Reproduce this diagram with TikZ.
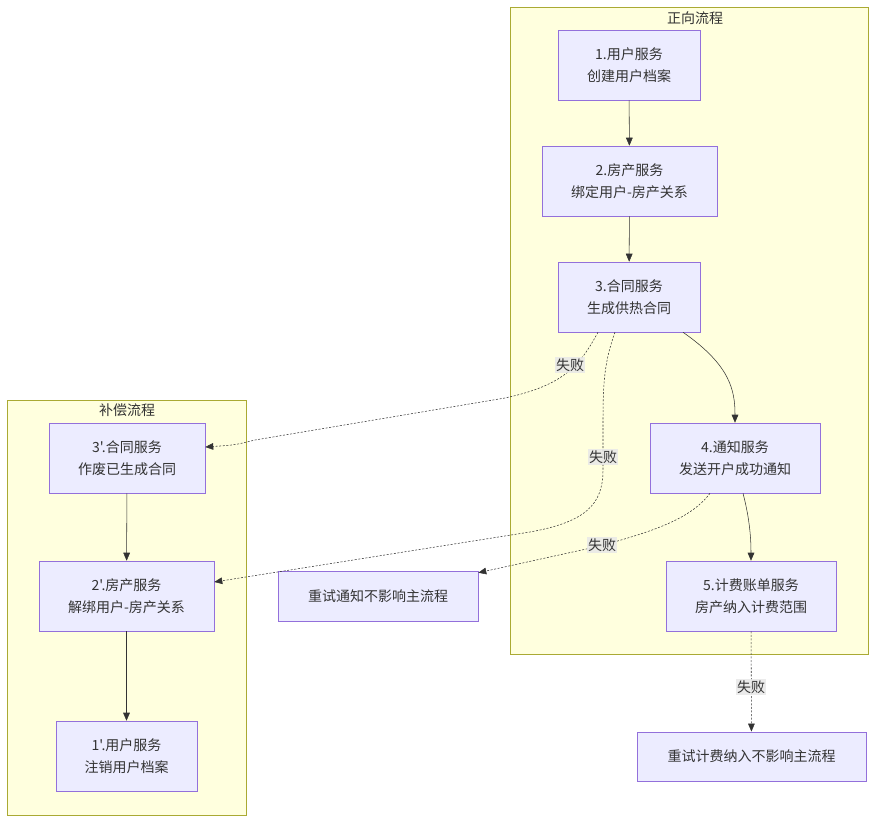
\documentclass[tikz,border=0pt]{standalone}
\usepackage{fontspec}
\usepackage{xcolor}
\usepackage{tikz}
\usetikzlibrary{positioning,calc,arrows.meta}
\newfontfamily\cjk{Noto Sans CJK SC}
\definecolor{boxfill}{HTML}{ECECFF}
\definecolor{boxline}{HTML}{9370DB}
\definecolor{grpfill}{HTML}{FFFFDE}
\definecolor{grpline}{HTML}{AAAA33}
\definecolor{ink}{HTML}{333333}
\definecolor{lblfill}{HTML}{E8E8E8}

\begin{document}
\begin{tikzpicture}[x=0.75pt,y=-0.75pt,
    txt/.style={font=\cjk\fontsize{10.5}{16.5}\selectfont, text=ink},
    svc/.style={txt, draw=boxline, fill=boxfill, align=center, inner sep=0pt, minimum height=52.5pt},
    grp/.style={draw=grpline, fill=grpfill},
    flow/.style={draw=ink, -{Triangle[length=6pt,width=5pt]}},
    fail/.style={flow, dash pattern=on 1.5pt off 1.2pt},
    lbl/.style={txt, fill=lblfill, fill opacity=0.85, text opacity=1, inner sep=1pt}]
    \useasboundingbox (0,0) rectangle (884,830);

    % Groups
    \fill [grp] (510,7) rectangle (868,654);
    \node [txt] (gmain) at (695,18) {正向流程};
    \fill [grp] (7,400) rectangle (246,815);
    \node [txt] (gcomp) at (127,410) {补偿流程};

    % Forward flow
    \node [svc, minimum width=106.5pt] (n1) at (629,65) {1.用户服务\\创建用户档案};
    \node [svc, minimum width=131.25pt] (n2) at (629.5,181) {2.房产服务\\绑定用户-房产关系};
    \node [svc, minimum width=106.5pt] (n3) at (629,297) {3.合同服务\\生成供热合同};
    \node [svc, minimum width=127.5pt] (n4) at (735,458) {4.通知服务\\发送开户成功通知};
    \node [svc, minimum width=127.5pt] (n5) at (751,596) {5.计费账单服务\\房产纳入计费范围};

    % Compensation flow
    \node [svc, minimum width=117pt] (c3) at (127,458) {3'.合同服务\\作废已生成合同};
    \node [svc, minimum width=131.25pt] (c2) at (126.5,596) {2'.房产服务\\解绑用户-房产关系};
    \node [svc, minimum width=105.75pt] (c1) at (126.5,756) {1'.用户服务\\注销用户档案};

    % Retries
    \node [svc, minimum width=150pt, minimum height=37.5pt] (r1) at (378,596) {重试通知不影响主流程};
    \node [svc, minimum width=171.75pt, minimum height=37pt] (r2) at (751.5,756.5) {重试计费纳入不影响主流程};

    % Solid edges
    \draw [flow] (n1) -- (n2);
    \draw [flow] (n2) -- (n3);
    \draw [flow] ($(n3.south)+(54,0)$) .. controls (730,365) and (735,390) .. (n4.north);
    \draw [flow] ($(n4.south)+(8,0)$) .. controls (750,520) and (751,540) .. (n5.north);
    \draw [flow] (c3) -- (c2);
    \draw [flow] (c2) -- (c1);

    % Failure edges
    \draw [fail] ($(n3.south)+(-31,0)$) .. controls (580,365) and (565,385) .. (505,398)
        -- (255,440) .. controls (235,445) .. ($(c3.east)+(0,-11)$);
    \draw [fail] ($(n3.south)+(-14,0)$) .. controls (605,360) and (603,380) .. (603,420)
        -- (603,470) .. controls (603,505) and (585,522) .. (530,532) -- ($(c2.east)+(0,-14)$);
    \draw [fail] ($(n4.south)+(-25,0)$) .. controls (690,520) and (650,532) .. (600,546) -- ($(r1.north east)+(0,2)$);
    \draw [fail] (n5) -- (r2);

    % Failure labels
    \node [lbl] (f1) at (570,365) {失败};
    \node [lbl] (f2) at (603,457) {失败};
    \node [lbl] (f3) at (602,545) {失败};
    \node [lbl] (f4) at (751,687) {失败};
\end{tikzpicture}
\end{document}
